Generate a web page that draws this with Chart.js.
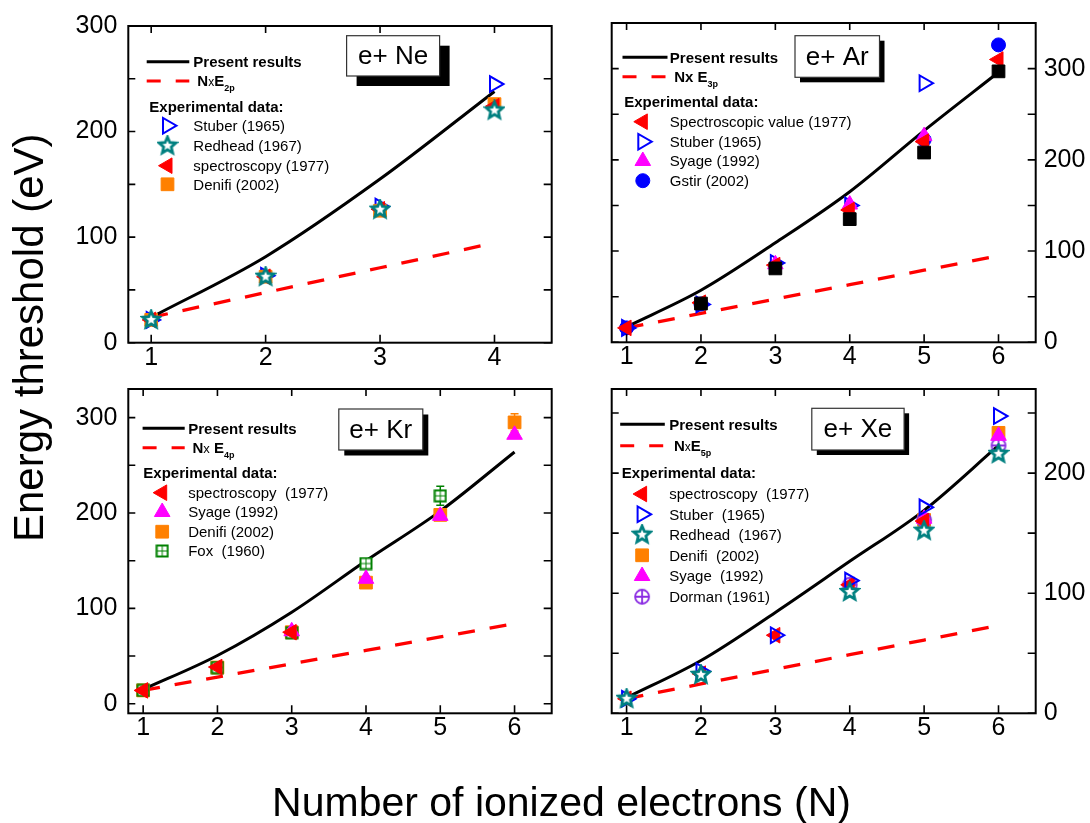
<!DOCTYPE html>
<html>
<head>
<meta charset="utf-8">
<script src="https://cdn.jsdelivr.net/npm/chart.js@4.4.1/dist/chart.umd.min.js"></script>
<style>
  html, body { margin: 0; padding: 0; background: #fff; }
  #wrap { position: relative; width: 1090px; height: 823px; overflow: hidden; }
  #wrap canvas { position: absolute; left: 0; top: 0; }
</style>
</head>
<body>
<div id="wrap">
  <canvas id="cNe" width="1090" height="823"></canvas>
  <canvas id="cAr" width="1090" height="823"></canvas>
  <canvas id="cKr" width="1090" height="823"></canvas>
  <canvas id="cXe" width="1090" height="823"></canvas>
</div>
<script>
const FONT = '"Liberation Sans", Arial, Helvetica, sans-serif';
const W = 1090, H = 823;
const AXW = 60, AXH = 40;

// tick values
const xTicks4 = [1, 2, 3, 4];
const xTicks6 = [1, 2, 3, 4, 5, 6];
const yTicksNe = [0, 50, 100, 150, 200, 250, 300];
const yTicksAr = [0, 50, 100, 150, 200, 250, 300];
const yTicksKr = [0, 50, 100, 150, 200, 250, 300];
const yTicksXe = [0, 50, 100, 150, 200, 250];

// e+ Ne
const neN = [1, 2, 3, 4];
const nePresent = [24, 81.5, 155, 238];
const neNxE = [24, 47.5, 71, 94.5];
const neStuber = [21.6, 63.5, 129, 245];
const neRedhead = [21.6, 62.5, 126, 220];
const neSpectro = [21.6, 62.5, 126.4, 224];
const neDenifi = [21.6, 62.5, 125, 226];

// e+ Ar
const arN = [1, 2, 3, 4, 5, 6];
const arPresent = [17, 57, 109, 165, 232, 296];
const arNxE = [15.8, 31.6, 47.4, 63.2, 79, 94.8];
const arSpectro = [15.8, 43.4, 84.6, 145, 220, 310];
const arStuber = [15.8, 41.5, 87, 150, 284, null];
const arSyage = [null, null, 85.5, 151, 226, null];
const arGstir = [15.8, 42, null, null, 222, 326];
const arOther = [null, 42.5, 81, 135, 208, 297];

// e+ Kr
const krN = [1, 2, 3, 4, 5, 6];
const krPresent = [15, 50.6, 96, 150, 202, 264];
const krNxE = [14, 28, 42, 56, 70, 84];
const krSpectro = [14, 38.5, 75, null, null, null];
const krSyage = [null, null, 76, 131, 197, 282];
const krDenifi = [14, 38, 75, 127, 198, 295];
const krDenifiErr = [0, 0, 0, 0, 0, 9];
const krFox = [14, 38, 74.5, 147, 218, null];
const krFoxErr = [0, 0, 0, 0, 10, 0];

// e+ Xe
const xeN = [1, 2, 3, 4, 5, 6];
const xePresent = [13, 44, 84, 126.5, 169, 223];
const xeNxE = [12.2, 24.4, 36.6, 48.8, 61, 73.2];
const xeSpectro = [12.1, 33, 65, 107, 160, null];
const xeStuber = [12.1, 35, 65, 110.5, 171.5, 247.5];
const xeRedhead = [12.1, 32, null, 101, 152, 216];
const xeDenifi = [null, null, null, null, 161, 233.5];
const xeSyage = [null, null, null, null, 162, 231];
const xeDorman = [null, null, null, 107, 161, 223];

function pts(xs, ys, errs) {
  const out = [];
  xs.forEach((x, i) => {
    if (ys[i] !== null) out.push({ x: x, y: ys[i], e: errs ? errs[i] : 0 });
  });
  return out;
}

function makeMark(size, draw) {
  const c = document.createElement('canvas');
  c.width = size; c.height = size;
  draw(c.getContext('2d'), size / 2);
  return c;
}

const starMark = makeMark(22, (g, c) => {
  g.beginPath();
  for (let k = 0; k < 10; k++) {
    const r = k % 2 === 0 ? 8.8 : 4;
    const a = -Math.PI / 2 + k * Math.PI / 5;
    g.lineTo(c + r * Math.cos(a), c + r * Math.sin(a));
  }
  g.closePath();
  g.fillStyle = '#fff'; g.fill();
  g.strokeStyle = '#008080'; g.lineWidth = 2.8; g.stroke();
});

const foxMark = makeMark(14, (g) => {
  g.fillStyle = '#008000';
  g.fillRect(0.5, 0.5, 13, 13);
  g.fillStyle = '#fff';
  [[2.5, 2.5], [7.5, 2.5], [2.5, 7.5], [7.5, 7.5]].forEach(([a, b]) => g.fillRect(a, b, 4, 4));
});

const dormanMark = makeMark(18, (g, c) => {
  g.strokeStyle = '#8a2be2'; g.lineWidth = 1.8;
  g.beginPath();
  g.arc(c, c, 7, 0, 2 * Math.PI);
  g.moveTo(c - 7, c); g.lineTo(c + 7, c);
  g.moveTo(c, c - 7); g.lineTo(c, c + 7);
  g.stroke();
});

const MK = {
  stuber:  { style: 'triangle', rot: 90,  r: 9, fill: 'rgba(0,0,0,0)', stroke: '#0000ff', bw: 2 },
  spectro: { style: 'triangle', rot: -90, r: 9, fill: '#ff0000', stroke: '#ff0000', bw: 1 },
  syage:   { style: 'triangle', rot: 0,   r: 9, fill: '#ff00ff', stroke: '#ff00ff', bw: 1 },
  denifi:  { style: 'rect',     rot: 0,   r: 9, fill: '#ff8000', stroke: '#ff8000', bw: 1 },
  gstir:   { style: 'circle',   rot: 0,   r: 7, fill: '#0000ff', stroke: '#0000ff', bw: 1 },
  black:   { style: 'rect',     rot: 0,   r: 9, fill: '#000000', stroke: '#000000', bw: 1 },
  redhead: { style: starMark,   rot: 0,   r: 8, fill: '#008080', stroke: '#008080', bw: 0 },
  fox:     { style: foxMark,    rot: 0,   r: 7, fill: '#008000', stroke: '#008000', bw: 0 },
  dorman:  { style: dormanMark, rot: 0,   r: 8, fill: '#8a2be2', stroke: '#8a2be2', bw: 0 }
};

const panels = [
  {
    id: 'cNe', side: 'left', frame: { L: 128.3, T: 18, R: 551.7, B: 342.7 },
    xmax: 4.5, ymin: 0, ymax: 300, xTicks: xTicks4, yTicks: yTicksNe,
    n: neN, present: nePresent, nxe: neNxE,
    exp: [
      { label: 'Stuber (1965)', mk: MK.stuber, y: neStuber, order: 4, legend: true },
      { label: 'Redhead (1967)', mk: MK.redhead, y: neRedhead, order: 1, legend: true },
      { label: 'spectroscopy (1977)', mk: MK.spectro, y: neSpectro, order: 2, legend: true },
      { label: 'Denifi (2002)', mk: MK.denifi, y: neDenifi, order: 3, legend: true }
    ],
    box: { x: 346.6, y: 35.7, w: 93, h: 40.3, off: 10, text: 'e+ Ne' },
    leg: { x1: 146.7, x2: 189.3, yP: 61.7, tP: 193.3, yN: 81, tN: 197.3,
      nxe: [['N', 'bold 15px', 0], ['x', '12px', 0], ['E', 'bold 15px', 0], ['2p', 'bold 9px', 5]],
      expX: 149.3, expY: 106.7, mX: 167.5, tX: 193.3, rows: [125.7, 145.7, 165.7, 184.3] }
  },
  {
    id: 'cAr', side: 'right', frame: { L: 611.7, T: 17, R: 1035.7, B: 342.3 },
    xmax: 6.5, ymin: 0, ymax: 350, xTicks: xTicks6, yTicks: yTicksAr,
    n: arN, present: arPresent, nxe: arNxE,
    exp: [
      { label: 'Spectroscopic value (1977)', mk: MK.spectro, y: arSpectro, order: 2, legend: true },
      { label: 'Stuber (1965)', mk: MK.stuber, y: arStuber, order: 4, legend: true },
      { label: 'Syage (1992)', mk: MK.syage, y: arSyage, order: 3, legend: true },
      { label: 'Gstir (2002)', mk: MK.gstir, y: arGstir, order: 5, legend: true },
      { label: '', mk: MK.black, y: arOther, order: 1, legend: false }
    ],
    box: { x: 795, y: 35.7, w: 84.5, h: 41.6, off: 5, text: 'e+ Ar' },
    leg: { x1: 622.5, x2: 667.5, yP: 57.3, tP: 669.8, yN: 76.7, tN: 674.2,
      nxe: [['N', 'bold 15px', 0], ['x', 'bold 15px', 0], [' E', 'bold 15px', 0], ['3p', 'bold 9px', 5]],
      expX: 624.2, expY: 101.7, mX: 642.8, tX: 669.8, rows: [121.7, 141.7, 161, 180.7] }
  },
  {
    id: 'cKr', side: 'left', frame: { L: 128.3, T: 389, R: 551.7, B: 713.3 },
    xmax: 6.5, ymin: -10, ymax: 330, xTicks: xTicks6, yTicks: yTicksKr,
    n: krN, present: krPresent, nxe: krNxE,
    exp: [
      { label: 'spectroscopy  (1977)', mk: MK.spectro, y: krSpectro, order: 1, legend: true },
      { label: 'Syage (1992)', mk: MK.syage, y: krSyage, order: 2, legend: true },
      { label: 'Denifi (2002)', mk: MK.denifi, y: krDenifi, err: krDenifiErr, order: 4, legend: true },
      { label: 'Fox  (1960)', mk: MK.fox, y: krFox, err: krFoxErr, order: 3, legend: true }
    ],
    box: { x: 338.8, y: 409, w: 84, h: 41, off: 5.5, text: 'e+ Kr' },
    leg: { x1: 142.6, x2: 184.7, yP: 428.3, tP: 188.2, yN: 447.7, tN: 192.5,
      nxe: [['N', 'bold 15px', 0], ['x', '13px', 0], [' E', 'bold 15px', 0], ['4p', 'bold 9px', 5]],
      expX: 143.3, expY: 472.7, mX: 162.2, tX: 188.2, rows: [492.7, 512, 531.7, 551] }
  },
  {
    id: 'cXe', side: 'right', frame: { L: 611.7, T: 389, R: 1035.7, B: 713.3 },
    xmax: 6.5, ymin: 0, ymax: 270, xTicks: xTicks6, yTicks: yTicksXe,
    n: xeN, present: xePresent, nxe: xeNxE,
    exp: [
      { label: 'spectroscopy  (1977)', mk: MK.spectro, y: xeSpectro, order: 3, legend: true },
      { label: 'Stuber  (1965)', mk: MK.stuber, y: xeStuber, order: 2, legend: true },
      { label: 'Redhead  (1967)', mk: MK.redhead, y: xeRedhead, order: 1, legend: true },
      { label: 'Denifi  (2002)', mk: MK.denifi, y: xeDenifi, order: 6, legend: true },
      { label: 'Syage  (1992)', mk: MK.syage, y: xeSyage, order: 4, legend: true },
      { label: 'Dorman (1961)', mk: MK.dorman, y: xeDorman, order: 5, legend: true }
    ],
    box: { x: 811.8, y: 408.3, w: 92.3, h: 41.7, off: 5, text: 'e+ Xe' },
    leg: { x1: 620.2, x2: 664.8, yP: 424.3, tP: 669.2, yN: 445.7, tN: 673.9,
      nxe: [['N', 'bold 15px', 0], ['x', '12px', 0], ['E', 'bold 15px', 0], ['5p', 'bold 9px', 5]],
      expX: 621.8, expY: 472.7, mX: 642.1, tX: 669.2, rows: [494, 514.3, 534.7, 555.3, 576, 596.7] }
  }
];

function setMarkCtx(ctx, mk) {
  ctx.fillStyle = mk.fill;
  ctx.strokeStyle = mk.stroke;
  ctx.lineWidth = mk.bw;
}

function decorPlugin(p) {
  return {
    id: 'decor_' + p.id,
    beforeDatasetsDraw(chart) {
      // error bars
      const ctx = chart.ctx, xs = chart.scales.x, ys = chart.scales.y;
      chart.data.datasets.forEach(ds => {
        if (!ds.hasErr) return;
        ctx.save();
        ctx.strokeStyle = ds.mk.stroke;
        ctx.lineWidth = 1.5;
        ds.data.forEach(pt => {
          if (!pt.e) return;
          const px = xs.getPixelForValue(pt.x);
          const yTop = ys.getPixelForValue(pt.y + pt.e);
          const yBot = ys.getPixelForValue(pt.y - pt.e);
          ctx.beginPath();
          ctx.moveTo(px, yTop); ctx.lineTo(px, yBot);
          ctx.moveTo(px - 4, yTop); ctx.lineTo(px + 4, yTop);
          ctx.moveTo(px - 4, yBot); ctx.lineTo(px + 4, yBot);
          ctx.stroke();
        });
        ctx.restore();
      });
    },
    afterDatasetsDraw(chart) {
      const ctx = chart.ctx, a = chart.chartArea, xs = chart.scales.x, ys = chart.scales.y;
      ctx.save();
      // frame
      ctx.strokeStyle = '#000';
      ctx.lineWidth = 2;
      ctx.strokeRect(a.left, a.top, a.right - a.left, a.bottom - a.top);
      // inward ticks on all sides
      ctx.lineWidth = 1.6;
      ctx.beginPath();
      xs.ticks.forEach(t => {
        const px = xs.getPixelForValue(t.value);
        ctx.moveTo(px, a.bottom); ctx.lineTo(px, a.bottom - 8);
        ctx.moveTo(px, a.top); ctx.lineTo(px, a.top + 7);
      });
      ys.ticks.forEach(t => {
        const py = ys.getPixelForValue(t.value);
        ctx.moveTo(a.left, py); ctx.lineTo(a.left + 7, py);
        ctx.moveTo(a.right, py); ctx.lineTo(a.right - 8, py);
      });
      ctx.stroke();

      // label box with shadow
      const b = p.box;
      ctx.fillStyle = '#000';
      ctx.fillRect(b.x + b.off, b.y + b.off, b.w, b.h);
      ctx.fillStyle = '#fff';
      ctx.fillRect(b.x, b.y, b.w, b.h);
      ctx.strokeStyle = '#333';
      ctx.lineWidth = 1.2;
      ctx.strokeRect(b.x, b.y, b.w, b.h);
      ctx.fillStyle = '#000';
      ctx.font = '26px ' + FONT;
      ctx.textAlign = 'center';
      ctx.textBaseline = 'middle';
      ctx.fillText(b.text, b.x + b.w / 2, b.y + b.h / 2 + 1);

      // legend
      const L = p.leg;
      ctx.lineWidth = 3;
      ctx.strokeStyle = '#000';
      ctx.beginPath(); ctx.moveTo(L.x1, L.yP); ctx.lineTo(L.x2, L.yP); ctx.stroke();
      ctx.strokeStyle = '#ff0000';
      ctx.setLineDash([14, 15]);
      ctx.beginPath(); ctx.moveTo(L.x1, L.yN); ctx.lineTo(L.x2, L.yN); ctx.stroke();
      ctx.setLineDash([]);
      ctx.textAlign = 'left';
      ctx.textBaseline = 'alphabetic';
      ctx.fillStyle = '#000';
      ctx.font = 'bold 15px ' + FONT;
      ctx.fillText('Present results', L.tP, L.yP + 5.4);
      let tx = L.tN;
      L.nxe.forEach(([s, f, dy]) => {
        ctx.font = f + ' ' + FONT;
        ctx.fillText(s, tx, L.yN + 5.4 + dy);
        tx += ctx.measureText(s).width;
      });
      ctx.font = 'bold 15px ' + FONT;
      ctx.fillText('Experimental data:', L.expX, L.expY + 5.4);
      let row = 0;
      chart.data.datasets.forEach(ds => {
        if (!ds.inLegend) return;
        const y = L.rows[row++];
        setMarkCtx(ctx, ds.mk);
        Chart.helpers.drawPoint(ctx, { pointStyle: ds.mk.style, rotation: ds.mk.rot, radius: ds.mk.r, borderWidth: ds.mk.bw }, L.mX, y);
        ctx.fillStyle = '#000';
        ctx.font = '15px ' + FONT;
        ctx.fillText(ds.label, L.tX, y + 5.4);
      });
      ctx.restore();
    }
  };
}

const titlePlugin = {
  id: 'titles',
  afterDraw(chart) {
    const ctx = chart.ctx;
    ctx.save();
    ctx.fillStyle = '#000';
    ctx.font = '41px ' + FONT;
    ctx.textAlign = 'center';
    ctx.textBaseline = 'alphabetic';
    ctx.fillText('Number of ionized electrons (N)', 561.5, 816);
    ctx.translate(43, 542);
    ctx.rotate(-Math.PI / 2);
    ctx.font = '42px ' + FONT;
    ctx.textAlign = 'left';
    ctx.fillText('Energy threshold (eV)', 0, 0);
    ctx.restore();
  }
};

function buildPanel(p, withTitles) {
  const f = p.frame;
  const datasets = [
    {
      label: 'Present results', data: pts(p.n, p.present), showLine: true,
      borderColor: '#000', borderWidth: 3, pointRadius: 0,
      cubicInterpolationMode: 'monotone', order: 20
    },
    {
      label: 'NxE', data: pts(p.n, p.nxe), showLine: true,
      borderColor: '#ff0000', borderWidth: 3.3, borderDash: [17, 15], pointRadius: 0, order: 21
    }
  ];
  p.exp.forEach(e => {
    datasets.push({
      label: e.label, data: pts(p.n, e.y, e.err), mk: e.mk, hasErr: !!e.err, inLegend: e.legend,
      showLine: false, order: e.order,
      pointStyle: e.mk.style, pointRotation: e.mk.rot, pointRadius: e.mk.r,
      pointBackgroundColor: e.mk.fill, pointBorderColor: e.mk.stroke, pointBorderWidth: e.mk.bw
    });
  });

  const left = p.side === 'left';
  const tickFont = { family: FONT, size: 25 };
  const plugins = [decorPlugin(p)];
  if (withTitles) plugins.push(titlePlugin);

  return new Chart(document.getElementById(p.id), {
    type: 'scatter',
    data: { datasets: datasets },
    plugins: plugins,
    options: {
      responsive: false,
      animation: false,
      devicePixelRatio: 1,
      events: [],
      layout: {
        padding: {
          left: left ? f.L - AXW : f.L,
          right: left ? W - f.R : W - f.R - AXW,
          top: f.T,
          bottom: H - f.B - AXH
        }
      },
      plugins: { legend: { display: false }, tooltip: { enabled: false } },
      scales: {
        x: {
          type: 'linear', position: 'bottom', min: 0.8, max: p.xmax,
          afterBuildTicks: s => { s.ticks = p.xTicks.map(v => ({ value: v })); },
          afterFit: s => { s.height = AXH; },
          grid: { display: false, drawTicks: false },
          border: { display: false },
          ticks: { font: tickFont, color: '#000', padding: 0, autoSkip: false, maxRotation: 0 }
        },
        y: {
          type: 'linear', position: p.side, min: p.ymin, max: p.ymax,
          afterBuildTicks: s => { s.ticks = p.yTicks.map(v => ({ value: v })); },
          afterFit: s => { s.width = AXW; },
          grid: { display: false, drawTicks: false },
          border: { display: false },
          ticks: {
            font: tickFont, color: '#000', padding: left ? 11 : 8, autoSkip: false,
            callback: v => (v % 100 === 0 ? String(v) : '')
          }
        }
      }
    }
  });
}

panels.forEach((p, i) => buildPanel(p, i === 0));
</script>
</body>
</html>
